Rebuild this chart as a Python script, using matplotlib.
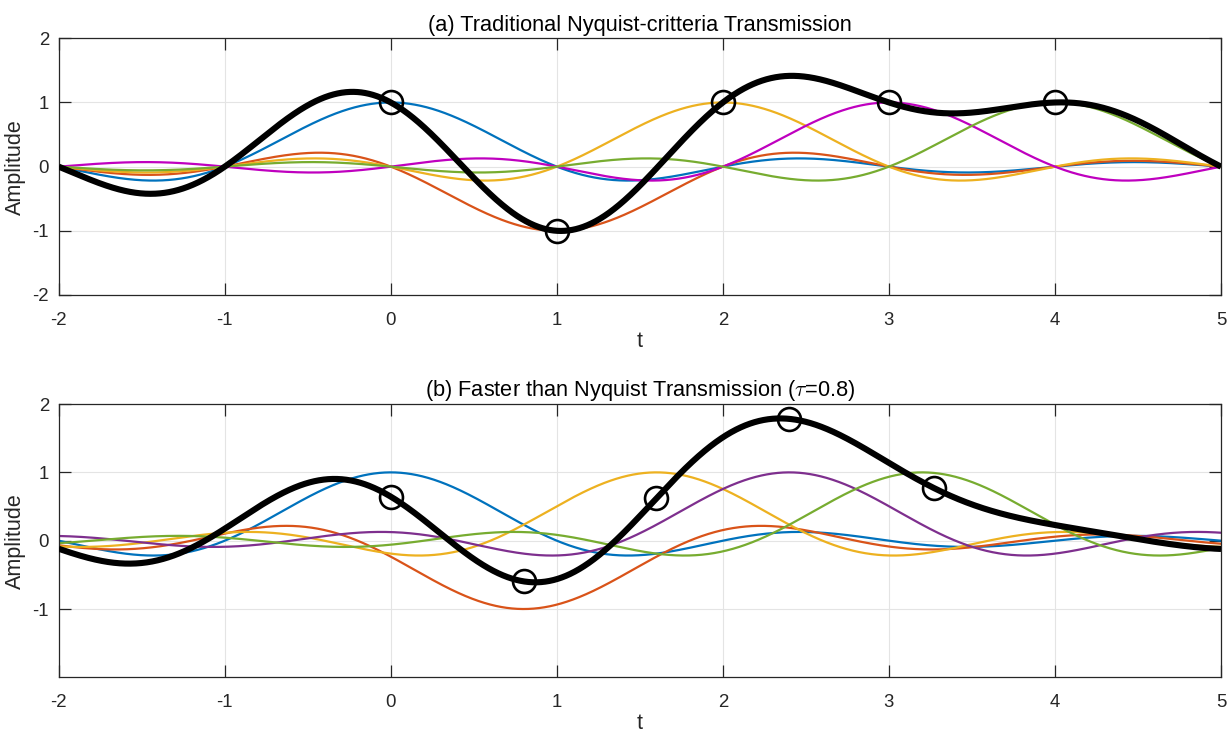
import numpy as np
import matplotlib
matplotlib.use("Agg")
import matplotlib.pyplot as plt

# symbols sent in both panels, and the spacing between pulses
symbols = [1, -1, 1, 1, 1]
tau_nyquist = 1.0
tau_ftn = 0.8

# where the sample circles sit on the summed signal
marks_nyquist = [0, 1, 2, 3, 4]
marks_ftn = [0, 0.8, 1.6, 2.4, 3.27]

colors_top = ["#0072BD", "#D95319", "#EDB120", "#BF00BF", "#77AC30"]
colors_bot = ["#0072BD", "#D95319", "#EDB120", "#7E2F8E", "#77AC30"]

titles = ["(a) Traditional Nyquist-critteria Transmission",
          r"(b) Faster than Nyquist Transmission ($\tau$=0.8)"]

plt.rcParams["font.family"] = ["Liberation Sans", "DejaVu Sans"]
plt.rcParams["axes.unicode_minus"] = False
plt.rcParams["mathtext.fontset"] = "cm"

DARK = "#262626"
t = np.linspace(-2, 5, 2801)

fig = plt.figure(figsize=(12.31, 7.38), dpi=100)
ax_top = fig.add_axes([0.0477, 0.6003, 0.9442, 0.3478])
ax_bot = fig.add_axes([0.0477, 0.0822, 0.9442, 0.3703])


def draw(ax, tau, marks, colors, title, yticks):
    total = np.zeros_like(t)
    for k, (a, c) in enumerate(zip(symbols, colors)):
        pulse = a * np.sinc(t - k * tau)
        total += pulse
        ax.plot(t, pulse, color=c, lw=1.6, zorder=2)
    ax.plot(t, total, color="black", lw=4.4, zorder=3,
            solid_capstyle="butt")
    ax.plot(marks, np.interp(marks, t, total), "o", ms=16.5, mfc="none",
            mec="black", mew=1.9, zorder=4)

    ax.set_xlim(-2, 5)
    ax.set_ylim(-2, 2)
    ax.set_xticks(range(-2, 6))
    ax.set_yticks(yticks)
    ax.grid(True, color="#e4e4e4", lw=0.8, zorder=0)
    ax.set_axisbelow(True)
    ax.tick_params(direction="in", top=True, right=True, length=8.5,
                   width=0.9, colors=DARK, labelsize=13.4, pad=7)
    ax.tick_params(axis="x", pad=12)
    for s in ax.spines.values():
        s.set_color(DARK)
        s.set_linewidth(0.9)
    ax.set_title(title, fontsize=15.7, color="black", pad=5.5)
    ax.set_xlabel("t", fontsize=15.5, color=DARK, labelpad=1.5)
    ax.set_ylabel("Amplitude", fontsize=15.5, color=DARK, labelpad=5)


draw(ax_top, tau_nyquist, marks_nyquist, colors_top, titles[0],
     [-2, -1, 0, 1, 2])
draw(ax_bot, tau_ftn, marks_ftn, colors_bot, titles[1], [-1, 0, 1, 2])

fig.savefig("out.png", dpi=100)
